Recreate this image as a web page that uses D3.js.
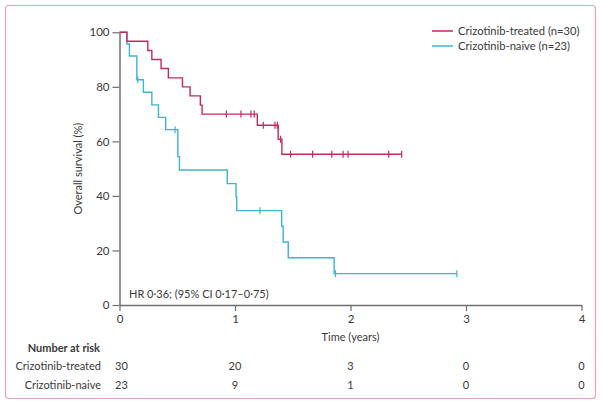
<!DOCTYPE html>
<html>
<head>
<meta charset="utf-8">
<script src="https://cdn.jsdelivr.net/npm/d3@7"></script>
<style>
  html, body { margin: 0; padding: 0; background: #fff; }
  svg { display: block; }
  text { font-family: Lato, "Open Sans", sans-serif; fill: #3a3a3a; }
</style>
</head>
<body>
<svg id="chart" width="603" height="409"></svg>
<script>
// ---- data ----
const groups = ["Crizotinib-treated", "Crizotinib-naive"];
const groupN = [30, 23];

const treatedTimes = [0.064, 0.245, 0.28, 0.36, 0.423, 0.545, 0.611, 0.70, 0.715, 1.193, 1.374, 1.406];
const treatedSurv  = [96.7, 93.3, 90.0, 86.7, 83.3, 80.0, 76.7, 73.3, 70.0, 65.9, 60.8, 55.3];
const treatedCensor = [0.925, 1.052, 1.138, 1.167, 1.245, 1.346, 1.366, 1.395, 1.481, 1.672, 1.838, 1.936, 1.979, 2.331, 2.443];

const naiveTimes = [0.064, 0.086, 0.15, 0.207, 0.28, 0.337, 0.40, 0.505, 0.519, 0.933, 1.009, 1.015, 1.404, 1.417, 1.461, 1.858];
const naiveSurv  = [95.7, 91.3, 82.6, 78.0, 73.4, 68.8, 64.3, 54.4, 49.5, 44.5, 39.6, 34.6, 28.9, 23.1, 17.3, 11.5];
const naiveCensor = [0.158, 0.481, 1.216, 1.87, 2.921];

const xTicks = [0, 1, 2, 3, 4];
const yTicks = [0, 20, 40, 60, 80, 100];
const riskTreated = [30, 20, 3, 0, 0];
const riskNaive = [23, 9, 1, 0, 0];
const hrText = "HR 0·36; (95% CI 0·17–0·75)";

// ---- drawing ----
const colors = ["#c42a5c", "#3cb4d4"];
const svg = d3.select("#chart");

svg.append("rect")
  .attr("x", 5.5).attr("y", 5.5).attr("width", 590).attr("height", 393)
  .attr("rx", 3).attr("fill", "none").attr("stroke", "#dba6bd").attr("stroke-width", 1.2);

const x = d3.scaleLinear().domain([0, 4]).range([119.5, 581.5]);
const y = d3.scaleLinear().domain([0, 100]).range([305, 32.3]);

const g = svg.append("g");

function stepPath(times, surv, endT) {
  const pts = [[0, 100]];
  let cur = 100;
  times.forEach((t, i) => { pts.push([t, cur]); pts.push([t, surv[i]]); cur = surv[i]; });
  pts.push([endT, cur]);
  return d3.line().x(d => x(d[0])).y(d => y(d[1]))(pts);
}
function survAt(times, surv, t) {
  let s = 100;
  times.forEach((tt, i) => { if (tt <= t) s = surv[i]; });
  return s;
}

const series = [
  { times: treatedTimes, surv: treatedSurv, cens: treatedCensor, color: colors[0] },
  { times: naiveTimes, surv: naiveSurv, cens: naiveCensor, color: colors[1] }
];

// draw naive first so treated sits on top where they overlap at 100%
[series[1], series[0]].forEach(s => {
  const endT = Math.max(d3.max(s.times), d3.max(s.cens));
  g.append("path").attr("d", stepPath(s.times, s.surv, endT))
    .attr("fill", "none").attr("stroke", s.color).attr("stroke-width", 1.4);
  g.selectAll(null).data(s.cens).enter().append("line")
    .attr("x1", d => x(d)).attr("x2", d => x(d))
    .attr("y1", d => y(survAt(s.times, s.surv, d)) - 3.5)
    .attr("y2", d => y(survAt(s.times, s.surv, d)) + 3.5)
    .attr("stroke", s.color).attr("stroke-width", 1.2);
});

// axes
const axisColor = "#6e6e6e";
const yAxis = svg.append("g").attr("transform", `translate(${x(0)},0)`)
  .call(d3.axisLeft(y).tickValues(yTicks).tickFormat(d3.format("d")).tickSize(7).tickPadding(3).tickSizeOuter(0));
const xAxis = svg.append("g").attr("transform", `translate(0,${y(0)})`)
  .call(d3.axisBottom(x).tickValues(xTicks).tickFormat(d3.format("d")).tickSize(6).tickPadding(4).tickSizeOuter(0));
[xAxis, yAxis].forEach(a => {
  a.select(".domain").attr("stroke", axisColor).attr("stroke-width", 1.5);
  a.selectAll(".tick line").attr("stroke", axisColor).attr("stroke-width", 1.2);
  a.selectAll(".tick text").attr("font-family", "Lato, sans-serif").attr("font-size", 11.5).attr("fill", "#3a3a3a");
});

svg.append("text").attr("transform", `translate(82,${(y(0) + y(100)) / 2}) rotate(-90)`)
  .attr("text-anchor", "middle").attr("font-size", 11).text("Overall survival (%)");
svg.append("text").attr("x", (x(0) + x(4)) / 2).attr("y", 341)
  .attr("text-anchor", "middle").attr("font-size", 11).text("Time (years)");

svg.append("text").attr("x", 129).attr("y", 298).attr("font-size", 11).text(hrText);

// legend
groups.forEach((name, i) => {
  const ly = 31 + i * 15;
  svg.append("line").attr("x1", 432).attr("x2", 453).attr("y1", ly).attr("y2", ly)
    .attr("stroke", colors[i]).attr("stroke-width", 1.5);
  svg.append("text").attr("x", 458).attr("y", ly + 4).attr("font-size", 11.2)
    .text(`${name} (n=${groupN[i]})`);
});

// number at risk
svg.append("text").attr("x", 100).attr("y", 352).attr("text-anchor", "end")
  .attr("font-size", 11).attr("font-weight", "bold").attr("fill", "#222").text("Number at risk");
[riskTreated, riskNaive].forEach((row, i) => {
  const ry = 370 + i * 19;
  svg.append("text").attr("x", 101).attr("y", ry).attr("text-anchor", "end")
    .attr("font-size", 11).text(groups[i]);
  svg.selectAll(null).data(row).enter().append("text")
    .attr("x", (d, j) => x(xTicks[j]) + (j === 0 ? 2 : 0))
    .attr("y", ry).attr("text-anchor", "middle").attr("font-size", 11).text(d => d);
});
</script>
</body>
</html>
